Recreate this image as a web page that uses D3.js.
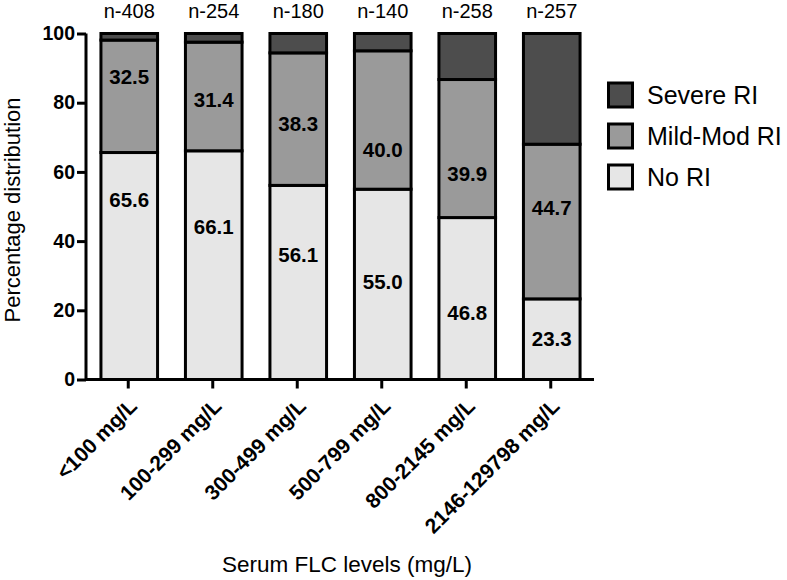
<!DOCTYPE html>
<html>
<head>
<meta charset="utf-8">
<script src="https://cdn.jsdelivr.net/npm/d3@7"></script>
<style>
  html, body { margin: 0; padding: 0; background: #fff; }
  svg { display: block; font-family: "Liberation Sans", Arial, Helvetica, sans-serif; }
</style>
</head>
<body>
<svg id="chart" width="787" height="580"></svg>
<script>
// ---- data ----
const categories = ["<100 mg/L", "100-299 mg/L", "300-499 mg/L", "500-799 mg/L", "800-2145 mg/L", "2146-129798 mg/L"];
const nLabels = ["n-408", "n-254", "n-180", "n-140", "n-258", "n-257"];
const noRI = [65.6, 66.1, 56.1, 55.0, 46.8, 23.3];
const mildModRI = [32.5, 31.4, 38.3, 40.0, 39.9, 44.7];
const severeRI = [1.9, 2.5, 5.6, 5.0, 13.3, 32.0];
const yTicks = [0, 20, 40, 60, 80, 100];
const seriesNames = ["No RI", "Mild-Mod RI", "Severe RI"];
// where the printed value labels sit (in % units)
const noRILabelAt = [51.9, 44.1, 36.0, 28.2, 19.4, 11.7];
const mildLabelAt = [87.5, 80.8, 74.0, 66.5, 59.4, 49.8];

const colors = { "No RI": "#e6e6e6", "Mild-Mod RI": "#9a9a9a", "Severe RI": "#4d4d4d" };

const svg = d3.select("#chart");
const x = d3.scaleBand().domain(categories).range([86, 593]).paddingInner(0.33).paddingOuter(0.165);
const y = d3.scaleLinear().domain([0, 100]).range([379.5, 33.5]);

const rows = categories.map((c, i) => ({ cat: c, "No RI": noRI[i], "Mild-Mod RI": mildModRI[i], "Severe RI": severeRI[i] }));
const stack = d3.stack().keys(seriesNames)(rows);

// bars
const g = svg.append("g");
stack.forEach(layer => {
  g.selectAll(null).data(layer).enter().append("rect")
    .attr("x", d => x(d.data.cat) + 1)
    .attr("width", x.bandwidth())
    .attr("y", d => y(d[1]))
    .attr("height", d => y(d[0]) - y(d[1]))
    .attr("fill", colors[layer.key])
    .attr("stroke", "#000")
    .attr("stroke-width", 3);
});

// value labels
const lbl = svg.append("g").attr("font-weight", "bold").attr("font-size", 20.5).attr("text-anchor", "middle");
categories.forEach((c, i) => {
  const cx = x(c) + x.bandwidth() / 2 + 1;
  lbl.append("text").attr("x", cx).attr("y", y(noRILabelAt[i])).attr("dy", "0.36em").text(noRI[i].toFixed(1));
  lbl.append("text").attr("x", cx).attr("y", y(mildLabelAt[i])).attr("dy", "0.36em").text(mildModRI[i].toFixed(1));
});

// n labels
svg.append("g").attr("font-size", 20).attr("text-anchor", "middle")
  .selectAll("text").data(categories).enter().append("text")
  .attr("x", d => x(d) + x.bandwidth() / 2 + 1)
  .attr("y", 18)
  .text((d, i) => nLabels[i]);

// y axis
const yAxis = svg.append("g").attr("transform", "translate(86,0)")
  .call(d3.axisLeft(y).tickValues(yTicks).tickSize(9).tickPadding(2));
yAxis.select(".domain").attr("stroke-width", 3).attr("d", `M0,${y(100)}V${y(0)}`);
yAxis.selectAll(".tick line").attr("stroke-width", 3);
yAxis.selectAll(".tick text").attr("font-size", 19.5).attr("font-weight", "bold").attr("fill", "#000")
  .attr("font-family", "'Liberation Sans', Arial, sans-serif");

// x axis
const xAxis = svg.append("g").attr("transform", `translate(0,${y(0)})`)
  .call(d3.axisBottom(x).tickSize(9).tickSizeOuter(0));
xAxis.select(".domain").attr("stroke-width", 3).attr("d", "M86,0H594");
xAxis.selectAll(".tick line").attr("stroke-width", 3);
xAxis.selectAll(".tick text")
  .attr("font-size", 21).attr("font-weight", "bold").attr("fill", "#000")
  .attr("font-family", "'Liberation Sans', Arial, sans-serif")
  .attr("text-anchor", "end")
  .attr("dy", "0")
  .attr("y", 0)
  .attr("transform", "translate(10,28) rotate(-45)");

// axis titles
svg.append("text").attr("x", 347).attr("y", 572).attr("text-anchor", "middle").attr("font-size", 22.5)
  .text("Serum FLC levels (mg/L)");
svg.append("text").attr("transform", "translate(20,210) rotate(-90)").attr("text-anchor", "middle").attr("font-size", 22)
  .text("Percentage distribution");

// legend
const legendOrder = ["Severe RI", "Mild-Mod RI", "No RI"];
const leg = svg.append("g");
legendOrder.forEach((k, i) => {
  const cy = 95 + i * 41;
  leg.append("rect").attr("x", 608.5).attr("y", cy - 12).attr("width", 24).attr("height", 24)
    .attr("fill", colors[k]).attr("stroke", "#000").attr("stroke-width", 3);
  leg.append("text").attr("x", 647).attr("y", cy).attr("dy", "0.36em").attr("font-size", 25).text(k);
});
</script>
</body>
</html>
